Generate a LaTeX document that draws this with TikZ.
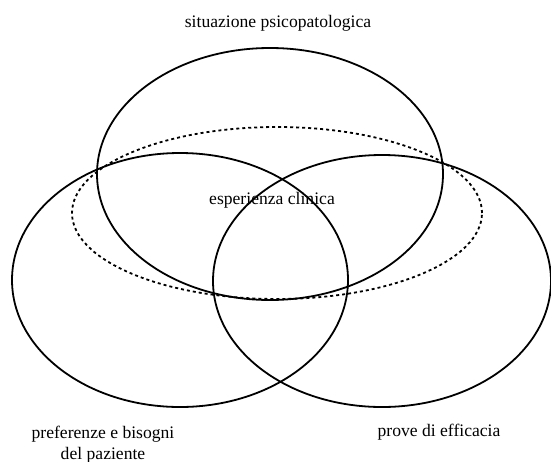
\documentclass[tikz,border=0pt]{standalone}
\usepackage{fontspec}
\setmainfont{Liberation Serif}
\usepackage{tikz}

\tikzset{
    area/.style={line width=0.9pt},
    clinic/.style={line width=0.9pt, dash pattern=on 1.5pt off 1.5pt},
    label/.style={inner sep=0pt, font=\fontsize{8.8}{10.6}\selectfont, align=center}
}

\begin{document}
\begin{tikzpicture}[x=0.5pt, y=-0.5pt]
    \useasboundingbox (0,0) rectangle (551,461);
    % Three main areas
    \draw [area] (270,174) ellipse [x radius=86.5pt, y radius=63pt];
    \draw [area] (180,280) ellipse [x radius=84pt, y radius=63.5pt];
    \draw [area] (382,281) ellipse [x radius=84.5pt, y radius=63pt];
    % Clinical experience
    \draw [clinic] (277,213) ellipse [x radius=102.5pt, y radius=43pt];

    % Labels
    \node [label] (psico) at (278,23) {situazione psicopatologica};
    \node [label] (clinica) at (272,200) {esperienza clinica};
    \node [label] (paziente) at (103,445) {preferenze e bisogni\\del paziente};
    \node [label] (prove) at (439,432) {prove di efficacia};
\end{tikzpicture}
\end{document}
